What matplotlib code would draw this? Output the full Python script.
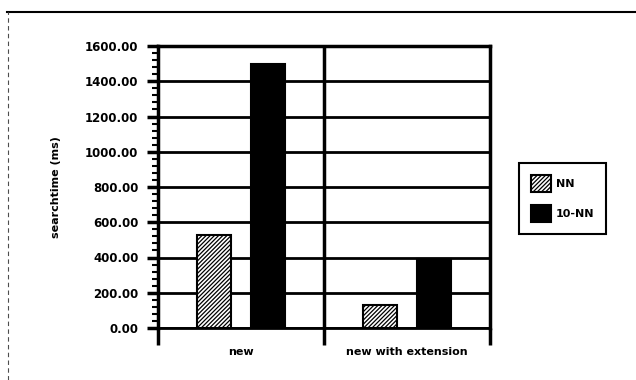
import numpy as np
import matplotlib
matplotlib.use("Agg")
import matplotlib.pyplot as plt
from matplotlib.lines import Line2D
from matplotlib.ticker import MultipleLocator, FixedLocator

categories = ["new", "new with extension"]
series_names = ["NN", "10-NN"]
nn_times = [530, 130]
knn_times = [1500, 390]

plt.rcParams["font.family"] = "DejaVu Sans"
plt.rcParams["font.weight"] = "bold"
plt.rcParams["hatch.linewidth"] = 0.9

W, H = 636, 380
fig = plt.figure(figsize=(W / 100, H / 100), dpi=100)
ax = fig.add_axes([158 / W, (H - 328) / H, 332 / W, 282 / H])

x = np.arange(len(categories))
bw = 0.205
off = 0.165
ax.bar(x - off, nn_times, bw, facecolor="white", edgecolor="black",
       hatch="////////", linewidth=1.5, label=series_names[0], zorder=3)
ax.bar(x + off, knn_times, bw, facecolor="black", edgecolor="black",
       linewidth=1.5, label=series_names[1], zorder=3)

ax.set_xlim(-0.5, len(categories) - 0.5)
ax.set_ylim(0, 1600)

# y axis: majors every 200 with a heavy grid, minors every 40
ax.yaxis.set_major_locator(MultipleLocator(200))
ax.yaxis.set_minor_locator(MultipleLocator(40))
ax.yaxis.set_major_formatter(lambda v, p: f"{v:.2f}")
ax.grid(axis="y", which="major", color="black", linewidth=2, zorder=1)
ax.tick_params(axis="y", which="major", length=8, width=2.5, labelsize=8.5, pad=6)
ax.tick_params(axis="y", which="minor", length=4, width=1.5)

# x axis: long ticks at category boundaries, labels centred in each
bounds = np.arange(len(categories) + 1) - 0.5
ax.xaxis.set_major_locator(FixedLocator(bounds))
ax.xaxis.set_major_formatter(lambda v, p: "")
ax.xaxis.set_minor_locator(FixedLocator(x))
ax.set_xticklabels(categories, minor=True)
ax.tick_params(axis="x", which="major", length=12, width=2.5)
ax.tick_params(axis="x", which="minor", length=0, labelsize=8, pad=14)
for b in bounds[1:-1]:
    ax.axvline(b, color="black", linewidth=2.5, zorder=2)

for s in ax.spines.values():
    s.set_linewidth(2.5)
ax.spines["bottom"].set_linewidth(2)

ax.set_ylabel("searchtime (ms)", fontsize=8, fontweight="bold", labelpad=17)

leg = fig.legend(loc="center left", bbox_to_anchor=(519 / W, (H - 198.5) / H),
                 fontsize=8, handlelength=1.8, handleheight=2.0,
                 labelspacing=1.1, handletextpad=0.4, borderpad=1.1,
                 borderaxespad=0, fancybox=False, framealpha=1,
                 edgecolor="black")
leg.get_frame().set_linewidth(1.5)

# page frame around the figure
fig.add_artist(Line2D([7 / W, 1], [1 - 12 / H] * 2, transform=fig.transFigure,
                      color="black", linewidth=1.5))
fig.add_artist(Line2D([8 / W] * 2, [0, 1 - 12 / H], transform=fig.transFigure,
                      color="0.3", linewidth=0.8, linestyle=(0, (4, 3))))

fig.savefig("out.png", dpi=100)
